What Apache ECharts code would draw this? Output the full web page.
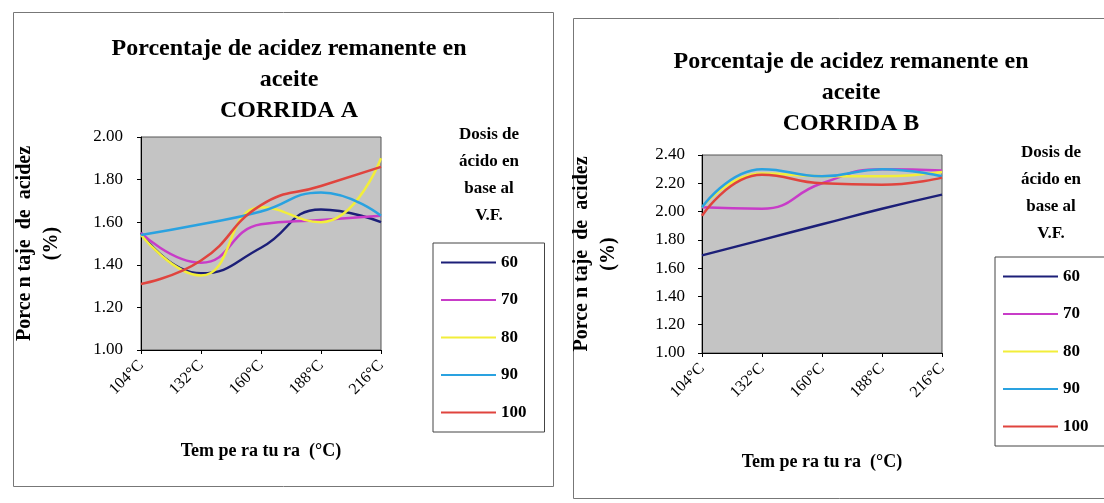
<!DOCTYPE html>
<html>
<head>
<meta charset="utf-8">
<script src="https://cdn.jsdelivr.net/npm/echarts@6/dist/echarts.min.js"></script>
<style>
  html, body { margin: 0; padding: 0; background: #fff; }
  #chart { width: 1104px; height: 503px; }
</style>
</head>
<body>
<div id="chart"></div>
<script>
// categorias (temperatura)
var temps = ['104°C', '132°C', '160°C', '188°C', '216°C'];
var dosis = ['60', '70', '80', '90', '100'];

// corrida A
var a60 = [1.55, 1.36, 1.48, 1.66, 1.60];
var a70 = [1.55, 1.41, 1.59, 1.61, 1.63];
var a80 = [1.54, 1.35, 1.67, 1.60, 1.90];
var a90 = [1.54, 1.59, 1.65, 1.74, 1.63];
var a100 = [1.31, 1.42, 1.68, 1.77, 1.86];

// corrida B
var b60 = [1.69, 1.80, 1.91, 2.02, 2.12];
var b70 = [2.03, 2.02, 2.20, 2.30, 2.29];
var b80 = [2.03, 2.27, 2.25, 2.25, 2.28];
var b90 = [2.03, 2.30, 2.25, 2.30, 2.25];
var b100 = [1.97, 2.26, 2.20, 2.19, 2.24];

var colores = ['#1c1f78', '#c83cc8', '#f2ee3a', '#2aa2e0', '#e0443e'];
var serif = '"Liberation Serif", "DejaVu Serif", serif';

var chart = echarts.init(document.getElementById('chart'));

function eje(idx, min, max, margen, gapX, gapY) {
  return {
    x: {
      type: 'category', gridIndex: idx, data: temps, boundaryGap: false,
      axisLine: { lineStyle: { color: '#000', width: 1 } },
      axisTick: { show: true, length: 4, lineStyle: { color: '#000' } },
      axisLabel: { rotate: 45, margin: 13, color: '#000', fontFamily: serif, fontSize: 16 },
      name: 'Tem pe ra tu ra  (°C)', nameLocation: 'middle', nameGap: gapX,
      nameTextStyle: { color: '#000', fontFamily: serif, fontWeight: 'bold', fontSize: 18 }
    },
    y: {
      type: 'value', gridIndex: idx, min: min, max: max, interval: 0.2,
      axisLine: { show: true, lineStyle: { color: '#000' } },
      axisTick: { show: true, length: 4, lineStyle: { color: '#000' } },
      splitLine: { show: false },
      axisLabel: { margin: margen, color: '#000', fontFamily: serif, fontSize: 17,
        formatter: function (v) { return v.toFixed(2); } },
      name: 'Porce n taje  de  acidez\n(%)', nameLocation: 'middle', nameRotate: 90,
      nameGap: gapY,
      nameTextStyle: { color: '#000', fontFamily: serif, fontWeight: 'bold', fontSize: 20, lineHeight: 27 }
    }
  };
}

var ejeA = eje(0, 1.0, 2.0, 18, 92, 76);
var ejeB = eje(1, 1.0, 2.4, 17, 100, 80);

function series(lista, idx) {
  return lista.map(function (d, i) {
    return {
      name: dosis[i], type: 'line', xAxisIndex: idx, yAxisIndex: idx,
      data: d, smooth: true, showSymbol: false, symbol: 'none',
      lineStyle: { width: 2.5, color: colores[i] }, itemStyle: { color: colores[i] }
    };
  });
}

function leyenda(left, top) {
  return {
    data: dosis, orient: 'vertical', left: left, top: top,
    icon: 'rect', itemWidth: 55, itemHeight: 2, itemGap: 20.5,
    padding: [11, 18, 11, 8], borderColor: '#444', borderWidth: 1,
    selectedMode: false,
    textStyle: { color: '#000', fontFamily: serif, fontWeight: 'bold', fontSize: 17 }
  };
}

var tituloEstilo = { color: '#000', fontFamily: serif, fontWeight: 'bold', fontSize: 24, lineHeight: 31 };
var leyTitulo = { color: '#000', fontFamily: serif, fontWeight: 'bold', fontSize: 17, lineHeight: 27 };

chart.setOption({
  backgroundColor: '#fff',
  animation: false,
  title: [
    { text: 'Porcentaje de acidez remanente en\naceite\nCORRIDA A', left: 284, top: 28, textAlign: 'center', textStyle: tituloEstilo },
    { text: 'Porcentaje de acidez remanente en\naceite\nCORRIDA B', left: 846, top: 41, textAlign: 'center', textStyle: tituloEstilo },
    { text: 'Dosis de\nácido en\nbase al\nV.F.', left: 484, top: 116, textAlign: 'center', textStyle: leyTitulo },
    { text: 'Dosis de\nácido en\nbase al\nV.F.', left: 1046, top: 134, textAlign: 'center', textStyle: leyTitulo }
  ],
  grid: [
    { left: 141, top: 137, width: 240, height: 213, show: true, backgroundColor: '#c4c4c4', borderColor: '#555', borderWidth: 1 },
    { left: 702, top: 155, width: 240, height: 198, show: true, backgroundColor: '#c4c4c4', borderColor: '#555', borderWidth: 1 }
  ],
  xAxis: [ejeA.x, ejeB.x],
  yAxis: [ejeA.y, ejeB.y],
  legend: [leyenda(433, 243), leyenda(995, 257)],
  graphic: [
    { type: 'rect', shape: { x: 13.5, y: 12.5, width: 540, height: 474 }, style: { fill: 'none', stroke: '#777', lineWidth: 1 }, silent: true },
    { type: 'rect', shape: { x: 573.5, y: 18.5, width: 540, height: 480 }, style: { fill: 'none', stroke: '#777', lineWidth: 1 }, silent: true }
  ],
  series: series([a60, a70, a80, a90, a100], 0).concat(series([b60, b70, b80, b90, b100], 1))
});
</script>
</body>
</html>
